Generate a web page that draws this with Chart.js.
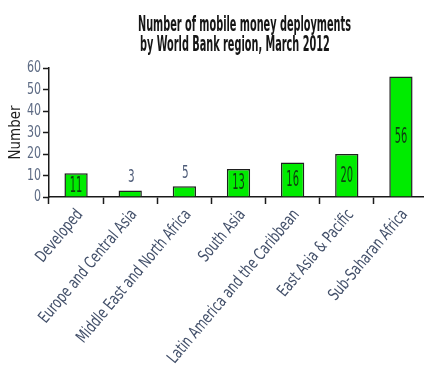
<!DOCTYPE html>
<html>
<head>
<meta charset="utf-8">
<script src="https://cdn.jsdelivr.net/npm/chart.js@4/dist/chart.umd.min.js"></script>
<style>
  html, body { margin: 0; padding: 0; background: #fff; overflow: hidden; }
  #wrap { width: 428px; height: 368px; position: relative; }
</style>
</head>
<body>
<div id="wrap"><canvas id="chart"></canvas></div>
<script>
// Mobile money deployments per World Bank region, March 2012
const regions = [
  'Developed',
  'Europe and Central Asia',
  'Middle East and North Africa',
  'South Asia',
  'Latin America and the Caribbean',
  'East Asia & Pacific',
  'Sub-Saharan Africa'
];
const deployments = [11, 3, 5, 13, 16, 20, 56];
const yTicks = [0, 10, 20, 30, 40, 50, 60];
const titleLines = ['Number of mobile money deployments', 'by World Bank region, March 2012'];
const yTitle = 'Number';

const NARROW = "'Liberation Sans Narrow', 'DejaVu Sans Condensed', 'Arial Narrow', sans-serif";
const LABEL_ANGLE = 50 * Math.PI / 180;

// Draw text squeezed horizontally to a condensed look
function condensed(ctx, text, x, y, sx, align) {
  ctx.save();
  const w = ctx.measureText(text).width * sx;
  let left = x;
  if (align === 'center') left = x - w / 2;
  else if (align === 'right') left = x - w;
  ctx.translate(left, y);
  ctx.scale(sx, 1);
  ctx.textAlign = 'left';
  ctx.fillText(text, 0, 0);
  ctx.restore();
}

// Horizontal squeeze that makes `text` exactly `width` pixels wide in the current font
function fitScale(ctx, text, width) {
  return width / ctx.measureText(text).width;
}

const decorations = {
  id: 'decorations',
  afterDatasetsDraw(chart) {
    const ctx = chart.ctx;
    const meta = chart.getDatasetMeta(0);
    ctx.save();
    ctx.textBaseline = 'middle';
    meta.data.forEach((bar, i) => {
      const v = deployments[i];
      const txt = String(v);
      if (v >= 10) {
        ctx.font = '22px ' + NARROW;
        ctx.fillStyle = '#0e3d10';
        condensed(ctx, txt, bar.x, (bar.y + bar.base) / 2 + 1, 0.5, 'center');
      } else {
        ctx.font = '17px ' + NARROW;
        ctx.fillStyle = '#4d5b78';
        condensed(ctx, txt, bar.x + 1, bar.y - 13, 0.68, 'center');
      }
    });
    ctx.restore();
  },
  afterDraw(chart) {
    const ctx = chart.ctx;
    const area = chart.chartArea;
    const xs = chart.scales.x;
    const ys = chart.scales.y;
    ctx.save();

    // two-line title
    ctx.fillStyle = '#161616';
    ctx.textBaseline = 'alphabetic';
    ctx.font = 'bold 22px ' + NARROW;
    const tsx = fitScale(ctx, titleLines[0], 213);
    condensed(ctx, titleLines[0], 138, 30.5, tsx, 'left');
    condensed(ctx, titleLines[1], 140, 50.5, tsx, 'left');

    // value-axis tick labels
    ctx.font = '15px ' + NARROW;
    ctx.fillStyle = '#5d6b84';
    ctx.textBaseline = 'middle';
    yTicks.forEach(v => {
      condensed(ctx, String(v), area.left - 8, ys.getPixelForValue(v) + 0.5, 0.82, 'right');
    });

    // rotated category labels
    ctx.font = '16.5px ' + NARROW;
    ctx.fillStyle = '#43506a';
    const csx = fitScale(ctx, regions[4], 195);
    regions.forEach((name, i) => {
      const x = xs.getPixelForTick(i);
      ctx.save();
      ctx.translate(x + 4, area.bottom + 15);
      ctx.rotate(-LABEL_ANGLE);
      ctx.scale(csx, 1);
      ctx.textAlign = 'right';
      ctx.textBaseline = 'middle';
      ctx.fillText(name, 0, 0);
      ctx.restore();
    });

    // vertical axis title
    ctx.translate(16, (area.top + area.bottom) / 2);
    ctx.rotate(-Math.PI / 2);
    ctx.fillStyle = '#1e1e1e';
    ctx.textBaseline = 'middle';
    ctx.font = '16px ' + NARROW;
    condensed(ctx, yTitle, 0, 0, fitScale(ctx, yTitle, 54), 'center');
    ctx.restore();
  }
};

new Chart(document.getElementById('chart'), {
  type: 'bar',
  data: {
    labels: regions,
    datasets: [{
      data: deployments,
      backgroundColor: '#00ec00',
      borderColor: '#1f1f1f',
      borderWidth: 1.5,
      borderSkipped: 'bottom',
      barPercentage: 0.43,
      categoryPercentage: 1
    }]
  },
  options: {
    responsive: true,
    maintainAspectRatio: false,
    animation: false,
    devicePixelRatio: 1,
    layout: { padding: { top: 68, left: 0, right: 0, bottom: 0 } },
    plugins: {
      legend: { display: false },
      title: { display: false },
      tooltip: { enabled: false }
    },
    scales: {
      x: {
        grid: {
          display: true,
          drawOnChartArea: false,
          drawTicks: true,
          tickLength: 7,
          tickColor: '#1a1a1a',
          tickWidth: 1.5,
          offset: true
        },
        border: { display: true, color: '#1a1a1a', width: 1.5 },
        ticks: { display: false, autoSkip: false },
        afterFit(scale) { scale.height = 171; }
      },
      y: {
        min: 0,
        max: 60,
        afterBuildTicks(scale) { scale.ticks = yTicks.map(v => ({ value: v })); },
        grid: {
          display: true,
          drawOnChartArea: false,
          drawTicks: true,
          tickLength: 6,
          tickColor: '#1a1a1a',
          tickWidth: 1.5
        },
        border: { display: true, color: '#1a1a1a', width: 1.5 },
        ticks: { display: false },
        afterFit(scale) { scale.width = 49; }
      }
    }
  },
  plugins: [decorations]
});
</script>
</body>
</html>
